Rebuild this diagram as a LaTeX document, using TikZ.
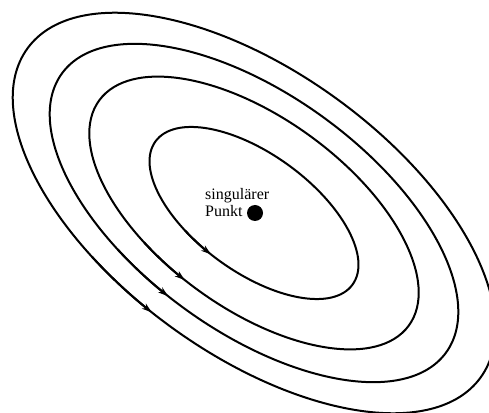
\documentclass[tikz,border=0pt]{standalone}
\usepackage{fontspec}
\setmainfont{Liberation Serif}
\usetikzlibrary{arrows.meta}
\begin{document}
\begin{tikzpicture}[x=1pt,y=1pt,
  orbit/.style={line width=2pt},
  flow/.style={line width=2pt,-{Stealth[length=10pt,width=6.5pt]}},
  lbl/.style={font=\fontsize{16}{17}\selectfont, inner sep=0pt, anchor=base west}]
\useasboundingbox (0,0) rectangle (489,412);
\clip (0,0) rectangle (489,412);
\coordinate (c) at (254,199);
\begin{scope}[shift={(c)}, rotate=-36]
  \foreach \a/\b in {121.8/59, 191.4/95.3, 237.4/118.2, 280/141} {
    \draw[orbit] (0,0) ellipse [x radius=\a, y radius=\b];
    \draw[flow] ({\a*cos(248)},{\b*sin(248)}) arc[start angle=248, end angle=265, x radius=\a, y radius=\b];
  }
\end{scope}
\node[circle, fill, inner sep=0pt, minimum size=16pt] (sp) at (255,199) {};
\node[lbl] (l1) at (205,212) {singulärer};
\node[lbl] (l2) at (205,195.3) {Punkt};
\end{tikzpicture}
\end{document}
